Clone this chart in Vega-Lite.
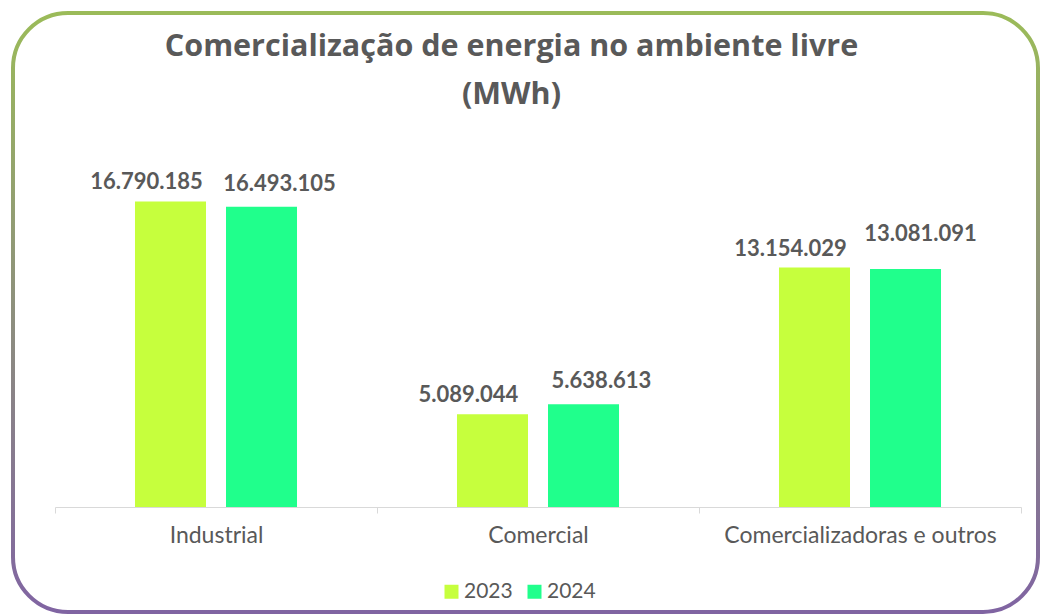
{
  "$schema": "https://vega.github.io/schema/vega-lite/v6.json",
  "width": 1025,
  "height": 599,
  "autosize": "none",
  "padding": {"left": 13, "top": 13, "right": 3, "bottom": 4},
  "background": "white",
  "title": {
    "text": ["Comercialização de energia no ambiente livre", "(MWh)"],
    "font": "Open Sans",
    "fontSize": 30.5,
    "fontWeight": "bold",
    "color": "#595959",
    "lineHeight": 48,
    "anchor": "middle",
    "baseline": "top",
    "offset": -97,
    "dx": -14
  },
  "data": {
    "values": [
      {"categoria": "Industrial", "ano": "2023", "valor": 16790185},
      {"categoria": "Industrial", "ano": "2024", "valor": 16493105},
      {"categoria": "Comercial", "ano": "2023", "valor": 5089044},
      {"categoria": "Comercial", "ano": "2024", "valor": 5638613},
      {"categoria": "Comercializadoras e outros", "ano": "2023", "valor": 13154029},
      {"categoria": "Comercializadoras e outros", "ano": "2024", "valor": 13081091}
    ]
  },
  "encoding": {
    "x": {
      "field": "categoria",
      "type": "nominal",
      "sort": ["Industrial", "Comercial", "Comercializadoras e outros"],
      "scale": {"range": [42, 1008], "paddingInner": 0, "paddingOuter": 0},
      "axis": {
        "title": null,
        "orient": "bottom",
        "offset": -105,
        "labelAngle": 0,
        "labelLimit": 0,
        "domainColor": "#D9D9D9",
        "domainWidth": 1,
        "tickColor": "#D9D9D9",
        "tickSize": 6,
        "tickBand": "extent",
        "labelFont": "Lato",
        "labelFontSize": 23,
        "labelColor": "#595959",
        "labelPadding": 11,
        "grid": false
      }
    },
    "xOffset": {
      "field": "ano",
      "type": "nominal",
      "scale": {"paddingInner": 0.2198, "paddingOuter": 0.879}
    },
    "y": {
      "field": "valor",
      "type": "quantitative",
      "scale": {"domain": [0, 27140000], "range": [494, 0], "nice": false},
      "axis": null
    }
  },
  "layer": [
    {
      "mark": {"type": "bar"},
      "encoding": {
        "color": {
          "field": "ano",
          "type": "nominal",
          "scale": {"domain": ["2023", "2024"], "range": ["#C6FF3D", "#20FF8C"]},
          "legend": {
            "title": null,
            "orient": "none",
            "legendX": 428,
            "legendY": 568,
            "direction": "horizontal",
            "symbolType": "square",
            "symbolSize": 196,
            "symbolStrokeWidth": 0,
            "labelFont": "Lato",
            "labelFontSize": 21,
            "labelColor": "#595959",
            "labelOffset": 2,
            "columnPadding": 11,
            "padding": 0
          }
        }
      }
    },
    {
      "transform": [{"filter": "datum.ano == '2023'"}],
      "mark": {"type": "text", "font": "Lato", "fontSize": 22, "fontWeight": "bold", "color": "#595959", "baseline": "alphabetic", "dx": -24, "dy": -12},
      "encoding": {"text": {"field": "valor", "type": "quantitative", "format": ",d"}}
    },
    {
      "transform": [{"filter": "datum.ano == '2024' && datum.categoria != 'Comercializadoras e outros'"}],
      "mark": {"type": "text", "font": "Lato", "fontSize": 22, "fontWeight": "bold", "color": "#595959", "baseline": "alphabetic", "dx": 18, "dy": -16},
      "encoding": {"text": {"field": "valor", "type": "quantitative", "format": ",d"}}
    },
    {
      "transform": [{"filter": "datum.ano == '2024' && datum.categoria == 'Comercializadoras e outros'"}],
      "mark": {"type": "text", "font": "Lato", "fontSize": 22, "fontWeight": "bold", "color": "#595959", "baseline": "alphabetic", "dx": 15, "dy": -28},
      "encoding": {"text": {"field": "valor", "type": "quantitative", "format": ",d"}}
    }
  ],
  "config": {
    "locale": {"number": {"decimal": ",", "thousands": ".", "grouping": [3], "currency": ["R$", ""]}},
    "view": {
      "stroke": {"gradient": "linear", "x1": 0, "y1": 0, "x2": 0, "y2": 1, "stops": [{"offset": 0, "color": "#9BBB59"}, {"offset": 1, "color": "#8064A2"}]},
      "strokeWidth": 4,
      "cornerRadius": 55,
      "fill": "white"
    }
  }
}
